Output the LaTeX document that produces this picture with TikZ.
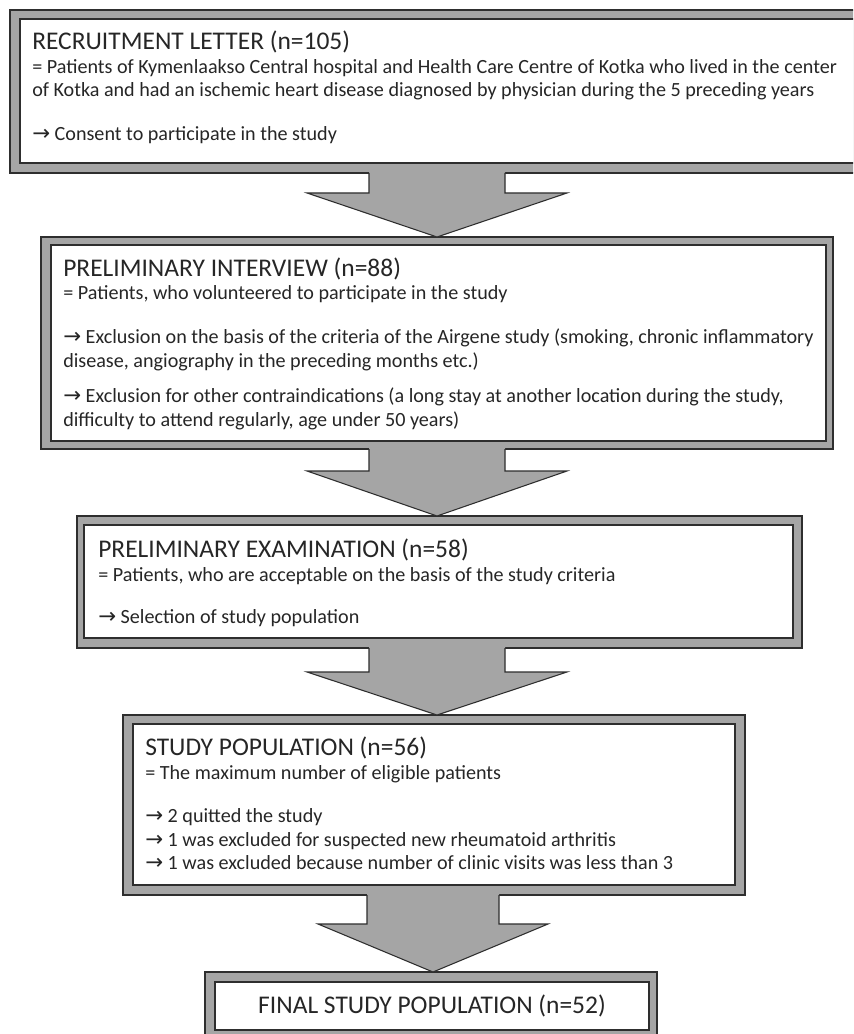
\documentclass[tikz,border=0pt]{standalone}
\usepackage{fontspec}
\setmainfont{Carlito}
\newfontfamily\symfont{DejaVu Sans}
\usetikzlibrary{calc,fit}
\definecolor{framegray}{HTML}{A5A5A5}
\definecolor{edge}{HTML}{2E2E2E}
\definecolor{ink}{HTML}{262626}
\newcommand\arr{{\symfont\fontsize{16}{18}\selectfont →}}
% #1 from node, #2 to node, #3 centre x, #4 shaft half width, #5 wing half width, #6 wing drop (px)
\newcommand\blockarrow[6]{%
  \fill[framegray] let \p1=(#1.south), \p2=(#2.north) in
    ({(#3-#4)*0.75pt},{\y1+3pt}) -- ({(#3-#4)*0.75pt},{\y1-#6*0.75pt}) --
    ({(#3-#5)*0.75pt},{\y1-#6*0.75pt}) -- ({#3*0.75pt},\y2) --
    ({(#3+#5)*0.75pt},{\y1-#6*0.75pt}) -- ({(#3+#4)*0.75pt},{\y1-#6*0.75pt}) --
    ({(#3+#4)*0.75pt},{\y1+3pt}) -- cycle;
  \draw[edge, line width=0.8pt, line join=miter] let \p1=(#1.south), \p2=(#2.north) in
    ({(#3-#4)*0.75pt},\y1) -- ({(#3-#4)*0.75pt},{\y1-#6*0.75pt}) --
    ({(#3-#5)*0.75pt},{\y1-#6*0.75pt}) -- ({#3*0.75pt},\y2) --
    ({(#3+#5)*0.75pt},{\y1-#6*0.75pt}) -- ({(#3+#4)*0.75pt},{\y1-#6*0.75pt}) --
    ({(#3+#4)*0.75pt},\y1);
}
\begin{document}
\begin{tikzpicture}[x=0.75pt,y=-0.75pt,
  outerbox/.style={draw=edge, fill=framegray, line width=0.8pt, inner sep=0pt, outer sep=0pt},
  innerbox/.style={draw=edge, fill=white, line width=0.8pt, inner sep=0pt, outer sep=0pt},
  ttl/.style={anchor=base west, inner sep=0pt, text=ink, font=\fontsize{19.1}{23}\selectfont},
  body/.style={anchor=base west, inner sep=0pt, text=ink, font=\fontsize{15.1}{18}\selectfont}]
\useasboundingbox (0,0) rectangle (853,1034);
\clip (0,0) rectangle (853,1034);
\fill[white] (0,0) rectangle (853,1034);

% Box 1
\node[outerbox, fit={(10,10) (872,173)}] (o1) {};
\node[innerbox, fit={(20,19) (862,163)}] (i1) {};
\node[ttl] (t1) at (32,50) {RECRUITMENT LETTER (n=105)};
\node[body] (t1a) at (32,74) {= Patients of Kymenlaakso Central hospital and Health Care Centre of Kotka who lived in the center};
\node[body] (t1b) at (32,97) {of Kotka and had an ischemic heart disease diagnosed by physician during the 5 preceding years};
\node[body] (t1c) at (32,141) {\arr\ Consent to participate in the study};

% Box 2
\node[outerbox, fit={(41,237) (833,449)}] (o2) {};
\node[innerbox, fit={(51,245) (826,441)}] (i2) {};
\node[ttl] (t2) at (63,276) {PRELIMINARY INTERVIEW (n=88)};
\node[body] (t2a) at (63,299) {= Patients, who volunteered to participate in the study};
\node[body] (t2b) at (63,343) {\arr\ Exclusion on the basis of the criteria of the Airgene study (smoking, chronic inflammatory};
\node[body] (t2c) at (63,367) {disease, angiography in the preceding months etc.)};
\node[body] (t2d) at (63,402) {\arr\ Exclusion for other contraindications (a long stay at another location during the study,};
\node[body] (t2e) at (63,426) {difficulty to attend regularly, age under 50 years)};

% Box 3
\node[outerbox, fit={(77,516) (802,648)}] (o3) {};
\node[innerbox, fit={(84,525) (793,638)}] (i3) {};
\node[ttl] (t3) at (98,557) {PRELIMINARY EXAMINATION (n=58)};
\node[body] (t3a) at (98,581) {= Patients, who are acceptable on the basis of the study criteria};
\node[body] (t3b) at (98,623) {\arr\ Selection of study population};

% Box 4
\node[outerbox, fit={(123,715) (745,895)}] (o4) {};
\node[innerbox, fit={(133,724) (735,885)}] (i4) {};
\node[ttl] (t4) at (145,755) {STUDY POPULATION (n=56)};
\node[body] (t4a) at (145,779) {= The maximum number of eligible patients};
\node[body] (t4b) at (145,822) {\arr\ 2 quitted the study};
\node[body] (t4c) at (145,846) {\arr\ 1 was excluded for suspected new rheumatoid arthritis};
\node[body] (t4d) at (145,869) {\arr\ 1 was excluded because number of clinic visits was less than 3};

% Box 5
\node[outerbox, fit={(205,972) (657,1040)}] (o5) {};
\node[innerbox, fit={(215,982) (649,1030)}] (i5) {};
\node[ttl, anchor=base] (t5) at (432,1013) {FINAL STUDY POPULATION (n=52)};

% Block arrows
\blockarrow{o1}{o2}{437}{68}{130}{20}
\blockarrow{o2}{o3}{437}{68}{130}{22}
\blockarrow{o3}{o4}{437}{68}{130}{24}
\blockarrow{o4}{o5}{433}{66}{115}{29}
\end{tikzpicture}
\end{document}
